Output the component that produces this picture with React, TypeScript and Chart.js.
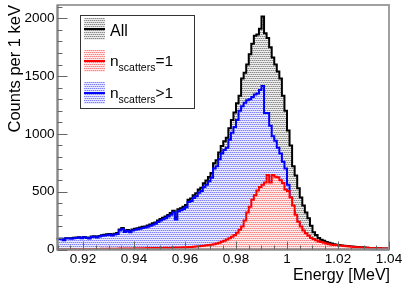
import React, { useEffect, useRef } from 'react';
import { Chart, registerables } from 'chart.js';

Chart.register(...registerables);

// ---- data ----
const X_MIN = 0.91;
const X_MAX = 1.04;
const BIN_WIDTH = 0.001; // 1 keV bins, lower edges start at X_MIN
const Y_MAX = 2115;

const xTickValues = [0.92, 0.94, 0.96, 0.98, 1.0, 1.02, 1.04];
const xTickLabels = ['0.92', '0.94', '0.96', '0.98', '1', '1.02', '1.04'];
const yTickValues = [0, 500, 1000, 1500, 2000];
const yTickLabels = ['0', '500', '1000', '1500', '2000'];

const seriesLabels = ['All', 'n_scatters=1', 'n_scatters>1'];

const countsAll = [
  87, 93, 94, 83, 98, 98, 97, 102, 103, 107,
  102, 108, 104, 100, 113, 114, 109, 117, 124, 127,
  131, 134, 129, 136, 142, 173, 185, 160, 168, 159,
  174, 180, 184, 190, 196, 200, 208, 216, 228, 234,
  251, 264, 275, 285, 299, 316, 335, 277, 348, 357,
  369, 385, 431, 442, 469, 486, 518, 535, 573, 596,
  628, 662, 746, 772, 838, 896, 936, 966, 1048, 1120,
  1185, 1265, 1330, 1480, 1530, 1600, 1690, 1780, 1850, 1860,
  1910, 2015, 1870, 1830, 1750, 1660, 1600, 1540, 1480, 1330,
  1200, 1030, 900, 720, 640, 530, 450, 380, 320, 270,
  205, 150, 125, 100, 85, 75, 65, 58, 52, 46,
  42, 38, 35, 32, 30, 28, 25, 23, 22, 20,
  19, 17, 16, 14, 13, 12, 11, 10, 9, 8,
];

const countsSingle = [
  2, 3, 2, 3, 3, 2, 3, 4, 3, 3,
  4, 3, 4, 4, 5, 4, 5, 5, 6, 5,
  6, 6, 7, 6, 7, 8, 7, 8, 8, 9,
  9, 10, 9, 10, 11, 10, 12, 11, 13, 12,
  13, 14, 13, 15, 14, 16, 15, 17, 18, 17,
  19, 20, 21, 22, 24, 26, 28, 30, 33, 36,
  38, 42, 46, 52, 58, 66, 76, 86, 98, 110,
  125, 145, 170, 200, 250, 320, 370, 430, 470, 510,
  540, 560, 580, 645, 580, 645, 630, 625, 600, 575,
  520, 505, 450, 380, 300, 240, 200, 165, 140, 120,
  100, 90, 80, 70, 65, 58, 52, 46, 42, 40,
  38, 35, 32, 30, 28, 25, 23, 21, 20, 19,
  18, 16, 15, 14, 13, 12, 11, 10, 9, 8,
];

const countsMulti = [
  85, 90, 92, 80, 95, 96, 94, 98, 100, 104,
  98, 105, 100, 96, 108, 110, 104, 112, 118, 122,
  125, 128, 122, 130, 135, 165, 178, 152, 160, 150,
  165, 170, 175, 180, 185, 190, 196, 205, 215, 222,
  238, 250, 262, 270, 285, 300, 320, 260, 330, 340,
  350, 365, 410, 420, 445, 460, 490, 505, 540, 560,
  590, 620, 700, 720, 780, 830, 860, 880, 950, 1010,
  1060, 1120, 1200, 1240, 1270, 1290, 1300, 1320, 1340, 1350,
  1380, 1414, 1180, 1180, 1070, 980, 940, 880, 830, 760,
  700, 560, 450, 330, 270, 220, 180, 140, 110, 85,
  65, 55, 45, 38, 30, 25, 22, 19, 16, 14,
  12, 11, 10, 9, 8, 8, 7, 6, 6, 5,
  5, 4, 4, 4, 3, 3, 3, 2, 2, 2,
];

// ---- helpers ----
function histPoints(counts: number[]) {
  const pts = counts.map((c, i) => ({ x: Math.round((X_MIN + i * BIN_WIDTH) * 1e6) / 1e6, y: c }));
  pts.push({ x: X_MAX, y: counts[counts.length - 1] });
  return pts;
}

function makePattern(bg: string, dot: string, dot2: string): CanvasPattern | string {
  const c = document.createElement('canvas');
  c.width = 4;
  c.height = 4;
  const g = c.getContext('2d');
  if (!g) return bg;
  g.fillStyle = bg;
  g.fillRect(0, 0, 4, 4);
  g.fillStyle = dot;
  g.fillRect(0, 0, 1, 1);
  g.fillRect(2, 0, 1, 1);
  g.fillRect(1, 2, 1, 1);
  g.fillRect(3, 2, 1, 1);
  g.fillStyle = dot2;
  g.fillRect(1, 0, 1, 1);
  g.fillRect(3, 0, 1, 1);
  g.fillRect(0, 2, 1, 1);
  g.fillRect(2, 2, 1, 1);
  const p = g.createPattern(c, 'repeat');
  return p || bg;
}

const FONT = '"Liberation Sans", Arial, Helvetica, sans-serif';

export default function App() {
  const ref = useRef<HTMLCanvasElement | null>(null);

  useEffect(() => {
    const canvas = ref.current;
    if (!canvas) return;
    document.body.style.margin = '0';

    const patAll = makePattern('#eeeeee', '#8a8a8a', '#c4c4c4');
    const patSingle = makePattern('#ffecec', '#ff8080', '#ffc0c0');
    const patMulti = makePattern('#ececff', '#8080ff', '#c0c0ff');

    const colors = ['#000000', '#ff0000', '#0000ff'];
    const patterns = [patAll, patSingle, patMulti];

    const decor = {
      id: 'rootDecor',
      afterDatasetsDraw(chart: any) {
        const ctx = chart.ctx as CanvasRenderingContext2D;
        const xs = chart.scales.x;
        const ys = chart.scales.y;
        const a = chart.chartArea;
        ctx.save();

        // frame
        ctx.strokeStyle = '#a0a0a0';
        ctx.lineWidth = 2;
        ctx.strokeRect(a.left, a.top, a.right - a.left, a.bottom - a.top);

        // axes lines
        ctx.strokeStyle = '#888888';
        ctx.lineWidth = 2;
        ctx.beginPath();
        ctx.moveTo(a.left, a.top);
        ctx.lineTo(a.left, a.bottom);
        ctx.lineTo(a.right, a.bottom);
        ctx.stroke();

        // ticks
        ctx.lineWidth = 1;
        ctx.strokeStyle = '#666666';
        ctx.beginPath();
        for (let v = 0; v <= Y_MAX; v += 100) {
          const y = Math.round(ys.getPixelForValue(v)) + 0.5;
          const major = v % 500 === 0;
          ctx.moveTo(a.left, y);
          ctx.lineTo(a.left + (major ? 10 : 5), y);
        }
        for (let k = 0; k <= 26; k++) {
          const v = X_MIN + k * 0.005;
          const x = Math.round(xs.getPixelForValue(v)) + 0.5;
          const major = k % 4 === 2;
          ctx.moveTo(x, a.bottom);
          ctx.lineTo(x, a.bottom - (major ? 8 : 4));
        }
        ctx.stroke();

        // tick labels
        ctx.fillStyle = '#000000';
        ctx.font = `13.5px ${FONT}`;
        ctx.textAlign = 'right';
        ctx.textBaseline = 'middle';
        yTickValues.forEach((v, i) => {
          ctx.fillText(yTickLabels[i], a.left - 3, ys.getPixelForValue(v));
        });
        ctx.textAlign = 'center';
        ctx.textBaseline = 'alphabetic';
        xTickValues.forEach((v, i) => {
          ctx.fillText(xTickLabels[i], xs.getPixelForValue(v), a.bottom + 13.5);
        });

        // axis titles
        ctx.font = `16px ${FONT}`;
        ctx.textAlign = 'right';
        ctx.fillText('Energy [MeV]', a.right + 1, 280);
        ctx.save();
        ctx.font = `16.5px ${FONT}`;
        ctx.translate(20, a.top);
        ctx.rotate(-Math.PI / 2);
        ctx.textAlign = 'right';
        ctx.fillText('Counts per 1 keV', 0, 0);
        ctx.restore();

        // legend
        const lx = 80.5, ly = 15.5, lw = 114, lh = 93;
        ctx.fillStyle = '#ffffff';
        ctx.fillRect(lx, ly, lw, lh);
        ctx.strokeStyle = '#333333';
        ctx.lineWidth = 1;
        ctx.strokeRect(lx, ly, lw, lh);
        const centers = [29, 61, 93];
        for (let i = 0; i < 3; i++) {
          const cy = centers[i];
          ctx.fillStyle = patterns[i] as any;
          ctx.fillRect(84, cy - 11, 21, 22);
          ctx.strokeStyle = colors[i];
          ctx.lineWidth = 2;
          ctx.beginPath();
          ctx.moveTo(84, cy);
          ctx.lineTo(105, cy);
          ctx.stroke();
          ctx.fillStyle = '#000000';
          ctx.textAlign = 'left';
          ctx.textBaseline = 'alphabetic';
          const lab = seriesLabels[i];
          if (lab.indexOf('_') < 0) {
            ctx.font = `16px ${FONT}`;
            ctx.fillText(lab, 110, cy + 7);
          } else {
            const [base, rest] = lab.split('_');
            const sub = rest.slice(0, 8);
            const tail = rest.slice(8);
            ctx.font = `15.5px ${FONT}`;
            ctx.fillText(base, 110, cy + 5);
            let x = 110 + ctx.measureText(base).width;
            ctx.font = `10.5px ${FONT}`;
            ctx.fillText(sub, x, cy + 10);
            x += ctx.measureText(sub).width;
            ctx.font = `15.5px ${FONT}`;
            ctx.fillText(tail, x, cy + 5);
          }
        }
        ctx.restore();
      },
    };

    const chart = new Chart(canvas, {
      type: 'line',
      data: {
        datasets: [
          {
            label: seriesLabels[0],
            data: histPoints(countsAll),
            stepped: 'after',
            borderColor: colors[0],
            borderWidth: 2,
            backgroundColor: patAll as any,
            fill: 'origin',
            pointRadius: 0,
            order: 3,
            clip: 3,
          },
          {
            label: seriesLabels[2],
            data: histPoints(countsMulti),
            stepped: 'after',
            borderColor: colors[2],
            borderWidth: 2,
            backgroundColor: patMulti as any,
            fill: 'origin',
            pointRadius: 0,
            order: 2,
            clip: 3,
          },
          {
            label: seriesLabels[1],
            data: histPoints(countsSingle),
            stepped: 'after',
            borderColor: colors[1],
            borderWidth: 2,
            backgroundColor: patSingle as any,
            fill: 'origin',
            pointRadius: 0,
            order: 1,
            clip: 3,
          },
        ],
      } as any,
      options: {
        animation: false,
        responsive: false,
        maintainAspectRatio: false,
        events: [],
        layout: { padding: { left: 57.5, right: 26, top: 5, bottom: 37.5 } },
        plugins: { legend: { display: false }, tooltip: { enabled: false } },
        scales: {
          x: { type: 'linear', min: X_MIN, max: X_MAX, display: false },
          y: { type: 'linear', min: 0, max: Y_MAX, display: false },
        },
      } as any,
      plugins: [decor],
    });

    return () => chart.destroy();
  }, []);

  return (
    <div style={{ position: 'fixed', left: 0, top: 0, width: 415, height: 287, background: '#fff' }}>
      <canvas ref={ref} width={415} height={287} style={{ display: 'block' }} />
    </div>
  );
}
